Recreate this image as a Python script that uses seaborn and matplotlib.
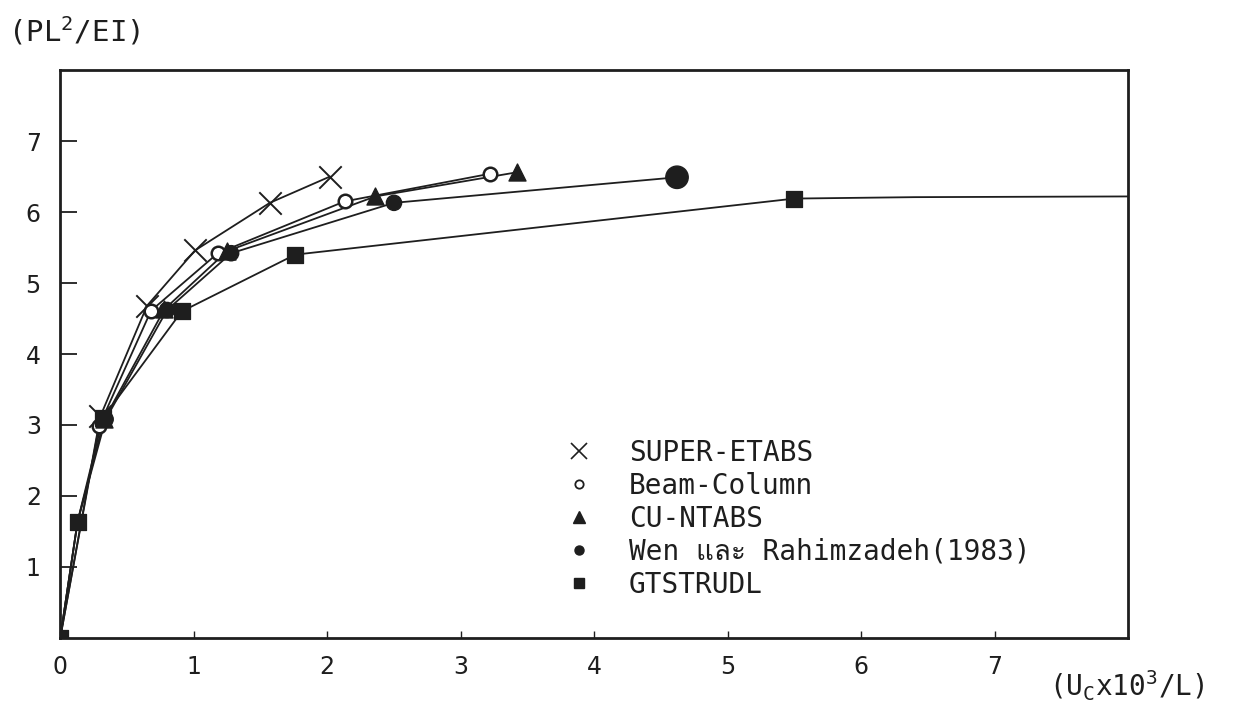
import matplotlib
matplotlib.use("Agg")
import matplotlib.pyplot as plt
from matplotlib import font_manager
from matplotlib.ft2font import FT2Font
from matplotlib.lines import Line2D
import seaborn as sns
import pandas as pd

# Load-deflection curves for the five analysis programs
super_etabs_x = [0.0, 0.30, 0.65, 1.01, 1.57, 2.02]
super_etabs_y = [0.0, 3.12, 4.68, 5.46, 6.13, 6.50]

beam_column_x = [0.0, 0.29, 0.68, 1.18, 2.13, 3.22]
beam_column_y = [0.0, 2.98, 4.61, 5.42, 6.15, 6.54]

cu_ntabs_x = [0.0, 0.13, 0.33, 0.78, 1.25, 2.36, 3.42]
cu_ntabs_y = [0.0, 1.64, 3.08, 4.63, 5.45, 6.22, 6.56]

wen_x = [0.0, 0.13, 0.34, 0.80, 1.28, 2.50, 4.62]
wen_y = [0.0, 1.64, 3.08, 4.62, 5.42, 6.13, 6.49]

gtstrudl_x = [0.0, 0.13, 0.32, 0.91, 1.76, 5.50, 6.40, 8.00]
gtstrudl_y = [0.0, 1.64, 3.10, 4.60, 5.40, 6.19, 6.21, 6.22]
gtstrudl_marked = [True, True, True, True, True, True, False, False]

series_names = ["SUPER-ETABS", "Beam-Column", "CU-NTABS",
                "Wen และ Rahimzadeh(1983)", "GTSTRUDL"]

x_ticks = [0, 1, 2, 3, 4, 5, 6, 7]
y_ticks = [1, 2, 3, 4, 5, 6, 7]

sns.set_theme(style="white")

# find an installed face that can draw Thai script for the legend
thai_font = None
for fe in font_manager.fontManager.ttflist:
    try:
        if 0x0E41 in FT2Font(fe.fname).get_charmap():
            thai_font = fe.name
            break
    except Exception:
        pass
mono = ["DejaVu Sans Mono"] + ([thai_font] if thai_font else [])
plt.rcParams["font.family"] = ["DejaVu Sans"]
plt.rcParams["mathtext.fontset"] = "custom"
plt.rcParams["mathtext.rm"] = "DejaVu Sans Mono"
plt.rcParams["mathtext.it"] = "DejaVu Sans Mono"
plt.rcParams["mathtext.default"] = "rm"

ink = "#1e1e1e"
fig = plt.figure(figsize=(12.55, 7.01), dpi=100)
fig.patch.set_facecolor("white")
ax = fig.add_axes([0.048, 0.090, 0.851, 0.810])
ax.set_facecolor("white")

frames = []
for name, xs, ys in [(series_names[0], super_etabs_x, super_etabs_y),
                     (series_names[1], beam_column_x, beam_column_y),
                     (series_names[2], cu_ntabs_x, cu_ntabs_y),
                     (series_names[3], wen_x, wen_y),
                     (series_names[4], gtstrudl_x, gtstrudl_y)]:
    frames.append(pd.DataFrame({"u": xs, "p": ys, "series": name}))
df = pd.concat(frames, ignore_index=True)

# connecting lines
sns.lineplot(data=df, x="u", y="p", units="series", estimator=None,
             sort=False, color=ink, lw=1.3, ax=ax, legend=False)

# point markers
def pts(name):
    return df[df["series"] == name]

s = pts(series_names[0]).iloc[1:]
sns.scatterplot(data=s, x="u", y="p", marker="x", s=260, color=ink,
                linewidth=1.4, ax=ax, legend=False, zorder=5)
s = pts(series_names[1]).iloc[1:]
ax.scatter(s["u"], s["p"], marker="o", s=95, facecolor="white",
           edgecolor=ink, linewidth=1.8, zorder=5)
s = pts(series_names[2]).iloc[2:]
sns.scatterplot(data=s, x="u", y="p", marker="^", s=150, color=ink,
                edgecolor=ink, ax=ax, legend=False, zorder=5)
s = pts(series_names[3]).iloc[2:]
sizes = [120] * (len(s) - 1) + [260]
ax.scatter(s["u"], s["p"], marker="o", s=sizes, color=ink, zorder=5)
s = pts(series_names[4])
s = s[gtstrudl_marked]
sns.scatterplot(data=s, x="u", y="p", marker="s", s=130, color=ink,
                edgecolor=ink, ax=ax, legend=False, zorder=6)

ax.set_xlim(0, 8)
ax.set_ylim(0, 8)
ax.set_xticks(x_ticks)
ax.set_yticks(y_ticks)
ax.set_xticklabels([str(t) for t in x_ticks], fontsize=17, color=ink)
ax.set_yticklabels([str(t) for t in y_ticks], fontsize=17, color=ink)
ax.tick_params(axis="x", direction="in", length=5, width=1.0, pad=12,
               color=ink, bottom=True)
ax.tick_params(axis="y", direction="in", length=12, width=1.3, pad=14,
               color=ink, left=True)
ax.set_xlabel("")
ax.set_ylabel("")
for sp in ax.spines.values():
    sp.set_visible(True)
    sp.set_color(ink)
    sp.set_linewidth(2.0)

fig.text(0.006, 0.955, r"(PL$^{2}$/EI)", fontsize=21, color=ink,
         family=mono, ha="left", va="center")
fig.text(0.836, 0.022, r"(U$_{C}$x10$^{3}$/L)", fontsize=20, color=ink,
         family=mono, ha="left", va="center")

handles = [
    Line2D([], [], ls="none", marker="x", ms=12, mew=1.2, color=ink),
    Line2D([], [], ls="none", marker="o", ms=6, mfc="white", mec=ink, mew=1.3),
    Line2D([], [], ls="none", marker="^", ms=8, color=ink),
    Line2D([], [], ls="none", marker="o", ms=6.5, color=ink),
    Line2D([], [], ls="none", marker="s", ms=6.5, color=ink),
]
leg = ax.legend(handles, series_names, loc="upper left",
                bbox_to_anchor=(0.462, 0.370), frameon=False,
                prop={"family": mono, "size": 20},
                labelspacing=0.18, handletextpad=1.3, handlelength=1.0,
                borderaxespad=0)
for t in leg.get_texts():
    t.set_color(ink)

fig.savefig("out.png", dpi=100, facecolor="white")
